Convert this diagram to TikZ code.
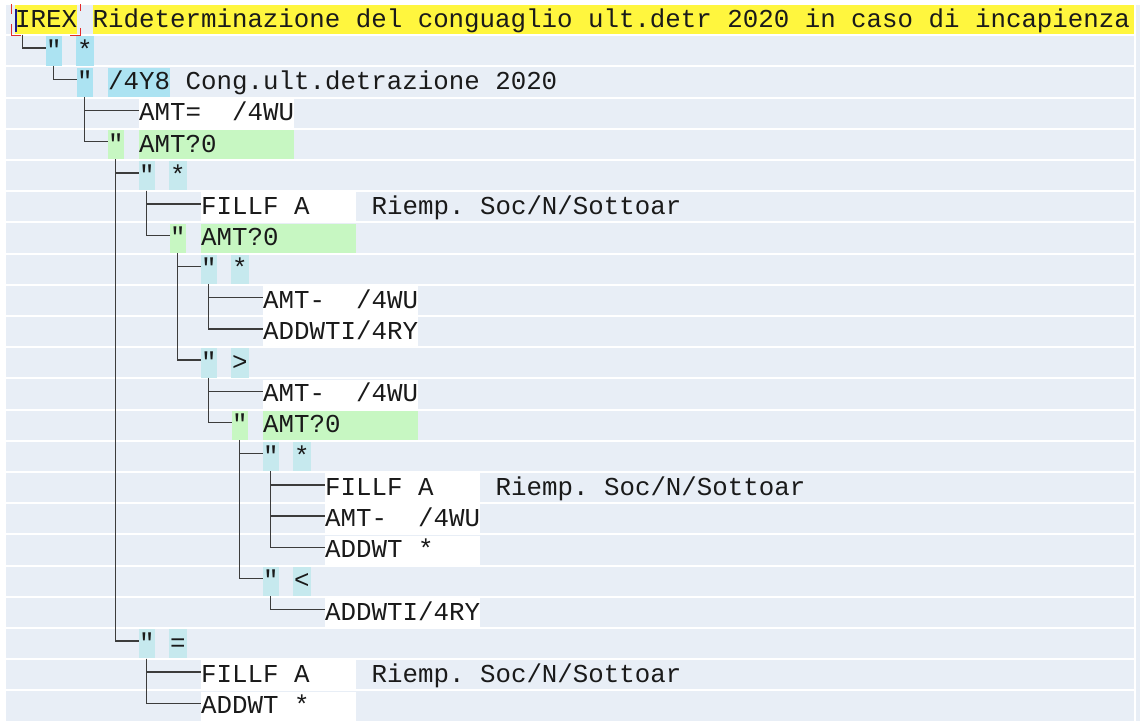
\documentclass[tikz,border=0pt]{standalone}
\usepackage{fontspec}
\newfontfamily\monofont{Liberation Mono}
\definecolor{rowbg}{HTML}{E8EEF6}
\definecolor{ink}{HTML}{1A1A1A}
\definecolor{hlyellow}{HTML}{FFF63E}
\definecolor{hlcyan}{HTML}{ACE3F2}
\definecolor{hlpale}{HTML}{C6E9EE}
\definecolor{hlgreen}{HTML}{C7F7C2}
\definecolor{linegray}{HTML}{3C3C3C}
\definecolor{focusred}{HTML}{E32B2B}
\definecolor{cursorblue}{HTML}{1A1A8C}
% fixed-pitch text: every character, spaces included, is one 15.48pt cell
\newcommand\gridfont{\monofont\fontsize{25.8pt}{30pt}\selectfont\frenchspacing}
\newcommand\gridspaces{\spaceskip=15.48pt\relax\xspaceskip=15.48pt\relax}
\tikzset{
  cell/.style={inner xsep=0pt, inner ysep=0pt, minimum height=29.2pt,
    text height=22.1pt, text depth=7.1pt, text=ink, font=\gridfont,
    execute at begin node=\gridspaces},
  quote/.style={cell, anchor=north, minimum width=16pt},
  opcell/.style={cell, anchor=north, minimum width=18pt},
  field/.style={cell, anchor=north west, text width=155pt, align=left},
  plain/.style={cell, anchor=north west},
  conn/.style={draw=linegray, line width=1.4pt},
  focus/.style={draw=focusred, line width=1.5pt},
}
\begin{document}
\begin{tikzpicture}[x=1pt, y=-1pt]
\useasboundingbox (0,0) rectangle (1140,721);
\fill[white] (0,0) rectangle (1140,721);
% row stripes
\foreach \i in {0,...,22}
  \fill[rowbg] (6,{5+31.2*\i}) rectangle (1133.5,{5+31.2*\i+29.2});
\fill[rowbg] (1135.5,5) rectangle (1140,721);

% row 0: header
\node[field, text width=62pt, fill=hlyellow] (irex) at (15,5) {IREX};
\node[field, text width=1041.5pt, fill=hlyellow] (title) at (92.5,5)
  {Rideterminazione del conguaglio ult.detr 2020 in caso di incapienza};
\draw[focus] (11.5,4) -- (11.5,14);
\draw[focus] (11.5,24) -- (11.5,35.5) -- (21,35.5);
\draw[focus] (80.5,4) -- (80.5,11);
\draw[focus] (70,35.5) -- (80.5,35.5) -- (80.5,28);
\draw[cursorblue, line width=1.3pt] (16,9) -- (16,32);

% tree rows
\node[quote, fill=hlcyan] (q1) at (53.75,36.2) {"};
\node[opcell, fill=hlcyan] (o1) at (84.75,36.2) {*};

\node[quote, fill=hlcyan] (q2) at (84.75,67.4) {"};
\node[field, text width=62pt, fill=hlcyan] (k2) at (108,67.4) {/4Y8};
\node[plain] (d2) at (185.5,67.4) {Cong.ult.detrazione 2020};

\node[field, fill=white] (t3) at (139,98.6) {AMT=~~/4WU};

\node[quote, fill=hlgreen] (q4) at (115.75,129.8) {"};
\node[field, fill=hlgreen] (c4) at (139,129.8) {AMT?0};

\node[quote, fill=hlpale] (q5) at (146.75,161) {"};
\node[opcell, fill=hlpale] (o5) at (177.75,161) {*};

\node[field, fill=white] (t6) at (201,192.2) {FILLF A};
\node[plain] (r6) at (371.5,192.2) {Riemp. Soc/N/Sottoar};

\node[quote, fill=hlgreen] (q7) at (177.75,223.4) {"};
\node[field, fill=hlgreen] (c7) at (201,223.4) {AMT?0};

\node[quote, fill=hlpale] (q8) at (208.75,254.6) {"};
\node[opcell, fill=hlpale] (o8) at (239.75,254.6) {*};

\node[field, fill=white] (t9) at (263,285.8) {AMT-~~/4WU};
\node[field, fill=white] (t10) at (263,317) {ADDWTI/4RY};

\node[quote, fill=hlpale] (q11) at (208.75,348.2) {"};
\node[opcell, fill=hlpale] (o11) at (239.75,348.2) {>};

\node[field, fill=white] (t12) at (263,379.4) {AMT-~~/4WU};

\node[quote, fill=hlgreen] (q13) at (239.75,410.6) {"};
\node[field, fill=hlgreen] (c13) at (263,410.6) {AMT?0};

\node[quote, fill=hlpale] (q14) at (270.75,441.8) {"};
\node[opcell, fill=hlpale] (o14) at (301.75,441.8) {*};

\node[field, fill=white] (t15) at (325,473) {FILLF A};
\node[plain] (r15) at (495.5,473) {Riemp. Soc/N/Sottoar};
\node[field, fill=white] (t16) at (325,504.2) {AMT-~~/4WU};
\node[field, fill=white] (t17) at (325,535.4) {ADDWT~*};

\node[quote, fill=hlpale] (q18) at (270.75,566.6) {"};
\node[opcell, fill=hlpale] (o18) at (301.75,566.6) {<};

\node[field, fill=white] (t19) at (325,597.8) {ADDWTI/4RY};

\node[quote, fill=hlpale] (q20) at (146.75,629) {"};
\node[opcell, fill=hlpale] (o20) at (177.75,629) {=};

\node[field, fill=white] (t21) at (201,660.2) {FILLF A};
\node[plain] (r21) at (371.5,660.2) {Riemp. Soc/N/Sottoar};
\node[field, fill=white] (t22) at (201,691.4) {ADDWT~*};

% connectors
\draw[conn] ([xshift=7.5pt]irex.south west) |- ([yshift=3pt]q1.west);
\draw[conn] (q1.south) |- ([yshift=3pt]q2.west);
\draw[conn] (q2.south) |- ([yshift=3pt]t3.west);
\draw[conn] (q2.south) |- ([yshift=3pt]q4.west);
\draw[conn] (q4.south) |- ([yshift=3pt]q5.west);
\draw[conn] (q5.south) |- ([yshift=3pt]t6.west);
\draw[conn] (q5.south) |- ([yshift=3pt]q7.west);
\draw[conn] (q7.south) |- ([yshift=3pt]q8.west);
\draw[conn] (q8.south) |- ([yshift=3pt]t9.west);
\draw[conn] (q8.south) |- ([yshift=3pt]t10.west);
\draw[conn] (q7.south) |- ([yshift=3pt]q11.west);
\draw[conn] (q11.south) |- ([yshift=3pt]t12.west);
\draw[conn] (q11.south) |- ([yshift=3pt]q13.west);
\draw[conn] (q13.south) |- ([yshift=3pt]q14.west);
\draw[conn] (q14.south) |- ([yshift=3pt]t15.west);
\draw[conn] (q14.south) |- ([yshift=3pt]t16.west);
\draw[conn] (q14.south) |- ([yshift=3pt]t17.west);
\draw[conn] (q13.south) |- ([yshift=3pt]q18.west);
\draw[conn] (q18.south) |- ([yshift=3pt]t19.west);
\draw[conn] (q4.south) |- ([yshift=3pt]q20.west);
\draw[conn] (q20.south) |- ([yshift=3pt]t21.west);
\draw[conn] (q20.south) |- ([yshift=3pt]t22.west);
\end{tikzpicture}
\end{document}
